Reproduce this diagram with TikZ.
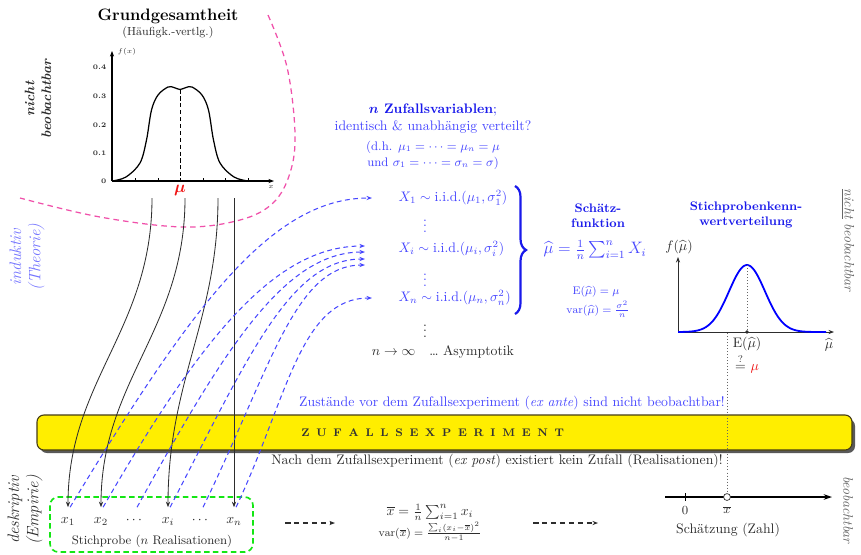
\documentclass[tikz,border=0pt]{standalone}
\usepackage{fontspec}
\usepackage{amsmath}
\usetikzlibrary{arrows.meta,decorations.pathreplacing,calc}
\definecolor{txt}{RGB}{45,45,45}
\definecolor{zblue}{RGB}{70,70,255}
\definecolor{zbold}{RGB}{25,25,235}
\definecolor{ltblue}{RGB}{115,115,255}
\definecolor{zpink}{RGB}{240,80,170}
\definecolor{zgreen}{RGB}{20,230,20}
\definecolor{zyellow}{RGB}{255,238,0}
\definecolor{zred}{RGB}{240,20,20}
\definecolor{barline}{RGB}{70,60,20}
\begin{document}
\begin{tikzpicture}[x=0.0255cm,y=-0.0255cm,
  lbl/.style={text=txt, inner sep=1pt},
  bt/.style={text=zblue, inner sep=1pt},
  hb/.style={text=zbold, inner sep=1pt, font=\small\bfseries, align=center},
  smp/.style={text=txt, inner sep=0pt, text height=6pt, text depth=2pt, outer sep=6pt},
  tip/.style={-{Stealth[length=4pt,width=3pt]}},
  realline/.style={txt, line width=0.6pt, tip},
  bluecurve/.style={zblue, line width=0.75pt, dash pattern=on 3.5pt off 2.5pt, tip},
  dasharrow/.style={txt, line width=0.8pt, dash pattern=on 4pt off 2.5pt, tip},
  dotline/.style={black!60, line width=0.4pt, dash pattern=on 0.7pt off 1.5pt},
  ticklbl/.style={text=txt, font=\tiny, inner sep=1pt, anchor=east}]
\useasboundingbox (0,0) rectangle (861,554);
\fill[white] (0,0) rectangle (861,554);

% pink border of the population
\draw[zpink, line width=0.9pt, dash pattern=on 4pt off 3pt] plot[smooth, tension=0.6] coordinates {(268,15) (287,67) (295,133) (290,173) (273,203) (240,220) (183,227) (100,217) (20,198)};

% title
\node[font=\large\bfseries, inner sep=1pt] (title) at (168,16) {Grundgesamtheit};
\node[lbl, font=\fontsize{8.5}{10}\selectfont] (sub) at (168,33) {(Häufigk.-vertlg.)};

% plot 1
\draw[line width=1pt, tip] (112,181) -- (112,51);
\draw[line width=1pt, tip] (112,181) -- (274,181);
\foreach \tk in {135,158,180,203,225,248} {\draw[line width=0.4pt] (\tk,181) -- (\tk,178);}
\node[ticklbl] (y4) at (108,67) {\textbf{0.4}};
\node[ticklbl] (y3) at (108,96) {\textbf{0.3}};
\node[ticklbl] (y2) at (108,125) {\textbf{0.2}};
\node[ticklbl] (y1) at (108,153) {\textbf{0.1}};
\node[ticklbl] (y0) at (108,181) {\textbf{0}};
\node[text=txt, font=\tiny, anchor=west, inner sep=1pt] (fx) at (116,52) {$f(x)$};
\node[text=txt, font=\tiny, inner sep=1pt] (xl) at (271,187) {$x$};
\draw[line width=0.9pt] plot[smooth, tension=0.55] coordinates {(112,181) (126,177) (140,163) (146.5,140) (151.5,110) (158,95) (168,87) (174,87.5) (180,89.5) (186,87.5) (192,87) (202,95) (208.5,110) (213.5,140) (220,163) (234,177) (248,181)};
\draw[line width=0.7pt, dash pattern=on 3pt off 2pt] (180,89.5) -- (180,181);
\node[text=zred, font=\large, inner sep=1pt] (mupop) at (180,190) {$\boldsymbol{\mu}$};

% left labels
\node[rotate=90, align=center, font=\bfseries\itshape, text=txt] (nb) at (38,99) {nicht\\beobachtbar};
\node[rotate=90, align=center, font=\large\itshape, text=ltblue] (ind) at (27,257) {induktiv\\(Theorie)};
\node[rotate=90, align=center, font=\large\itshape, text=txt] (des) at (25,510) {deskriptiv\\(Empirie)};

% right labels
\node[rotate=-90, font=\itshape, text=black!60] (nbr) at (848,240) {\underline{nicht} beobachtbar};
\node[rotate=-90, font=\itshape, text=black!60] (br) at (848,510) {beobachtbar};

% header
\node[text=zbold, font=\bfseries, inner sep=1pt] (hd1) at (433,110) {$\boldsymbol{n}$ Zufallsvariablen\textmd{;}};
\node[bt] (hd2) at (433,127) {identisch \& unabhängig verteilt?};
\node[bt, font=\small] (hd3) at (433,147) {(d.h. $\mu_1=\cdots=\mu_n=\mu$};
\node[bt, font=\small] (hd4) at (433,163) {und $\sigma_1=\cdots=\sigma_n=\sigma$)};

% random variables
\node[bt, anchor=west] (X1) at (397,198) {$X_1\sim\mbox{i.i.d.}(\mu_1,\sigma_1^2)$};
\node[bt] (v1) at (425,222) {$\vdots$};
\node[bt, anchor=west] (Xi) at (397,249) {$X_i\sim\mbox{i.i.d.}(\mu_i,\sigma_i^2)$};
\node[bt] (v2) at (425,276) {$\vdots$};
\node[bt, anchor=west] (Xn) at (397,298) {$X_n\sim\mbox{i.i.d.}(\mu_n,\sigma_n^2)$};
\node[text=txt] (v3) at (425,327) {$\vdots$};
\node[lbl] (asy) at (443,352) {$n\rightarrow\infty$\quad\ldots\ Asymptotik};
\draw[zbold, line width=1.6pt, decorate, decoration={brace, amplitude=8pt}] (515,186) -- (515,314);

% estimator
\node[hb] (sf) at (598,216) {Schätz-\\funktion};
\node[text=zblue, font=\large, inner sep=1pt] (muhat) at (595,250) {$\widehat{\mu}=\frac{1}{n}\sum_{i=1}^{n}X_i$};
\node[bt, font=\footnotesize] (Emu) at (596,292) {$\mathrm{E}(\widehat{\mu})=\mu$};
\node[bt, font=\footnotesize] (vmu) at (598,309) {$\mathrm{var}(\widehat{\mu})=\frac{\sigma^2}{n}$};

% sampling distribution
\node[hb] (skv) at (746,215) {Stichprobenkenn-\\wertverteilung};
\draw[txt, line width=0.6pt, tip] (678,332) -- (678,257);
\draw[txt, line width=0.6pt, tip] (678,332) -- (834,332);
\draw[blue, line width=1.3pt] plot[domain=678:826, samples=90] (\x, {332-67*exp(-((\x-747)^2)/648)});
\draw[dotline] (747,265) -- (747,332);
\fill[txt] (747,332) circle (1.3pt);
\node[lbl] (fmu) at (679,247) {$f(\widehat{\mu})$};
\node[lbl] (mal) at (829,345) {$\widehat{\mu}$};
\node[lbl] (Elab) at (747,344) {$\mathrm{E}(\widehat{\mu})$};
\node[lbl] (qeq) at (747,364) {$\stackrel{?}{=}$ \textcolor{zred}{$\mu$}};

% random experiment bar
\fill[black!65, rounded corners=5pt] (40,419) rectangle (855,453);
\draw[fill=zyellow, draw=barline, line width=0.8pt, rounded corners=5pt] (37,415) rectangle (852,450);
\node[text=black!80, font=\footnotesize\bfseries, anchor=west, inner sep=0pt] (zx) at (301,433) {Z\kern4.9pt U\kern4.9pt F\kern4.9pt A\kern4.9pt L\kern4.9pt L\kern4.9pt S\kern4.9pt E\kern4.9pt X\kern4.9pt P\kern4.9pt E\kern4.9pt R\kern4.9pt I\kern4.9pt M\kern4.9pt E\kern4.9pt N\kern4.9pt T};
\node[bt] (ante) at (512,403) {Zustände vor dem Zufallsexperiment (\textit{ex ante}) sind nicht beobachtbar!};
\node[lbl] (post) at (497,461) {Nach dem Zufallsexperiment (\textit{ex post}) existiert kein Zufall (Realisationen)!};

% sample
\draw[zgreen, line width=1.2pt, dash pattern=on 4pt off 2.5pt, rounded corners=6pt] (50,497) rectangle (253,552);
\node[smp] (s1) at (68,521) {$x_1$};
\node[smp] (s2) at (101,521) {$x_2$};
\node[smp] (c1) at (135,521) {$\cdots$};
\node[smp] (si) at (168,521) {$x_i$};
\node[smp] (c2) at (201,521) {$\cdots$};
\node[smp] (sn) at (234,521) {$x_n$};
\node[lbl, font=\small] (stp) at (152,541) {Stichprobe ($n$ Realisationen)};

% realisation lines
\coordinate (t1) at (152,198);
\coordinate (t2) at (185,198);
\coordinate (t3) at (218,198);
\coordinate (t4) at (234,198);
\draw[realline] (t1) .. controls ($(t1)+(0,132)$) and ($(s1.north)+(0,-127)$) .. (s1.north);
\draw[realline] (t2) .. controls ($(t2)+(0,132)$) and ($(s2.north)+(0,-127)$) .. (s2.north);
\draw[realline] (t3) .. controls ($(t3)+(0,122)$) and ($(si.north)+(0,-127)$) .. (si.north);
\draw[realline] (t4) -- (sn.north);

% inductive curves
\coordinate (e1) at (372,198);
\coordinate (ea) at (365,246);
\coordinate (eb) at (365,252);
\coordinate (ec) at (365,259);
\coordinate (ed) at (365,265);
\coordinate (en) at (372,298);
\draw[bluecurve] ([xshift=1.5pt]s1.north) .. controls ($(s1.north)+(122,-198)$) and ($(e1)+(-102,0)$) .. (e1);
\draw[bluecurve] ([xshift=1.5pt]s2.north) .. controls ($(s2.north)+(100,-170)$) and ($(ea)+(-90,0)$) .. (ea);
\draw[bluecurve] ([xshift=1.5pt]c1.north) .. controls ($(c1.north)+(90,-160)$) and ($(eb)+(-80,0)$) .. (eb);
\draw[bluecurve] ([xshift=1.5pt]si.north) .. controls ($(si.north)+(80,-150)$) and ($(ec)+(-75,0)$) .. (ec);
\draw[bluecurve] ([xshift=1.5pt]c2.north) .. controls ($(c2.north)+(70,-140)$) and ($(ed)+(-70,0)$) .. (ed);
\draw[bluecurve] ([xshift=1.5pt]sn.north) .. controls ($(sn.north)+(53,-108)$) and ($(en)+(-72,0)$) .. (en);

% estimate
\node[lbl] (xbar) at (430,512) {$\overline{x}=\frac{1}{n}\sum_{i=1}^{n}x_i$};
\node[lbl, font=\footnotesize] (vx) at (430,532) {$\mathrm{var}(\overline{x})=\frac{\sum_i(x_i-\overline{x})^2}{n-1}$};
\coordinate (d1a) at (285,523);
\coordinate (d1b) at (335,523);
\coordinate (d2a) at (533,523);
\coordinate (d2b) at (598,523);
\draw[dasharrow] (d1a) -- (d1b);
\draw[dasharrow] (d2a) -- (d2b);

% number line
\coordinate (nl0) at (665,497);
\coordinate (nl1) at (832,497);
\draw[line width=1.5pt, -{Stealth[length=6pt,width=4pt]}] (nl0) -- (nl1);
\draw[line width=0.5pt] (685,493) -- (685,501);
\node[circle, draw=txt, fill=white, line width=0.5pt, inner sep=0pt, minimum size=5pt] (xpt) at (727,497) {};
\node[lbl, font=\small] (zero) at (685,510) {0};
\node[lbl, font=\small] (xbl) at (727,510) {$\overline{x}$};
\node[lbl] (sz) at (728,530) {Schätzung (Zahl)};
\coordinate (dtop) at (727,333);
\draw[dotline] (dtop) -- (xpt.north);
\end{tikzpicture}
\end{document}
